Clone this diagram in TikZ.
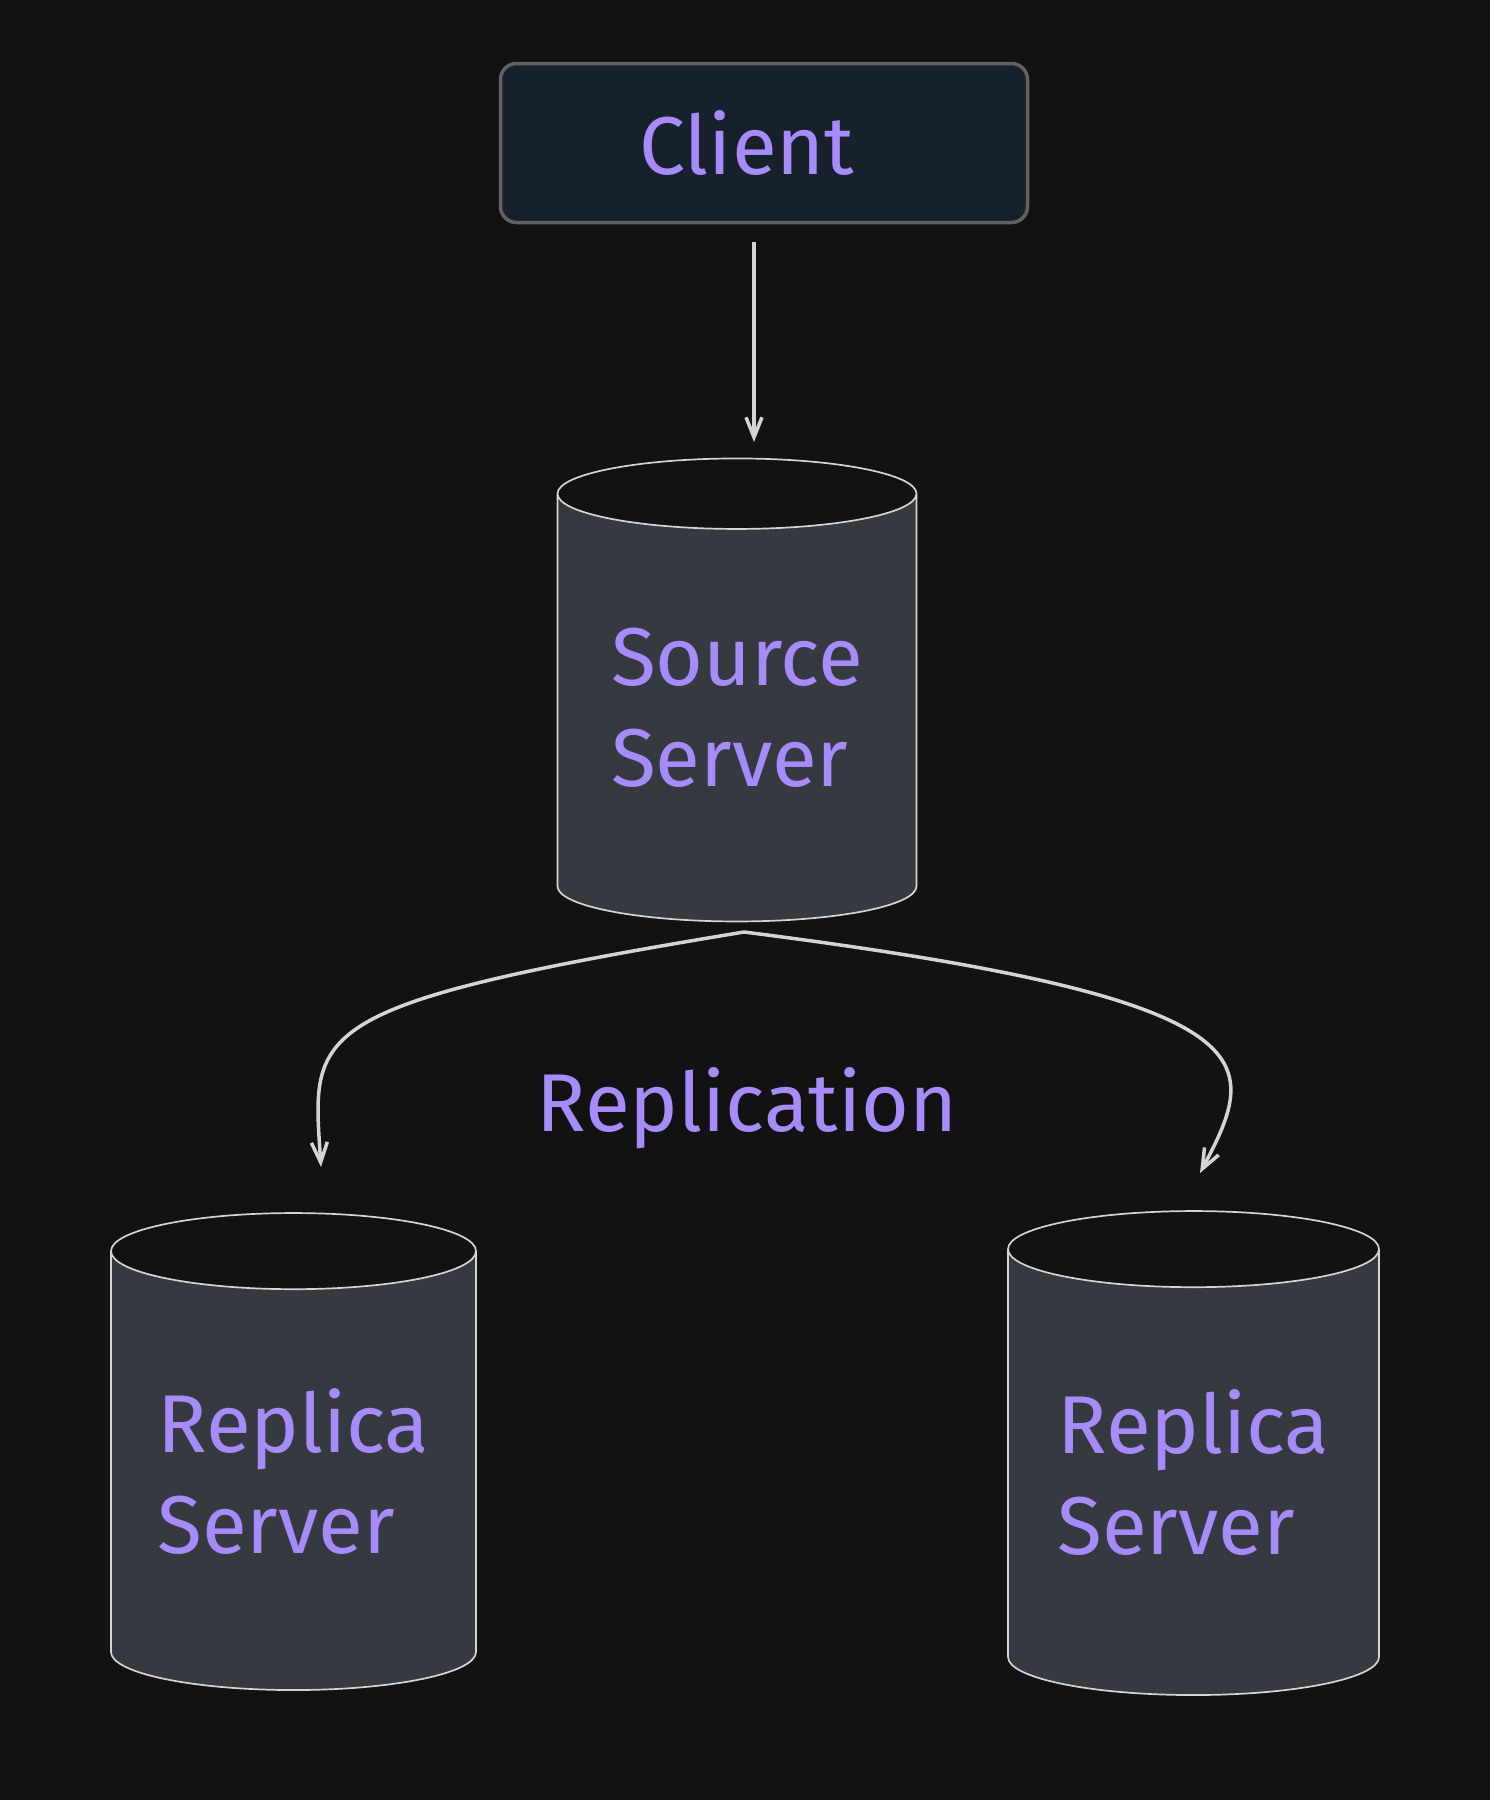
\documentclass[tikz,border=0pt]{standalone}
\usepackage{fontspec}
\newfontfamily\hand{Fira Sans}
\usetikzlibrary{shapes.geometric,arrows.meta}
\definecolor{bg}{HTML}{121212}
\definecolor{boxfill}{HTML}{17212B}
\definecolor{boxline}{HTML}{626262}
\definecolor{body}{HTML}{343A40}
\definecolor{edge}{HTML}{D4D4D4}
\definecolor{ink}{HTML}{A78BFA}
\tikzset{
  lbl/.style={font=\hand\fontsize{82}{101}\selectfont, text=ink},
  clientbox/.style={lbl, draw=boxline, fill=boxfill, line width=3.5pt, rounded corners=16pt, minimum width=527pt, minimum height=159pt},
  db/.style={lbl, cylinder, shape border rotate=90, aspect=0.28, draw=edge, line width=1.7pt, cylinder uses custom fill, cylinder body fill=body, cylinder end fill=bg, inner sep=0pt, align=left},
  arr/.style={draw=edge, line width=3.5pt, -{Straight Barb[length=20pt,width=16pt]}},
}

\begin{document}
\begin{tikzpicture}[x=1pt, y=-1pt]
        \fill[bg] (0,0) rectangle (1490,1800);
        \useasboundingbox (0,0) rectangle (1490,1800);

        % client and servers
        \node[clientbox] (client) at (764,143) {Client\hspace*{34pt}};
        \node[db, minimum width=359pt, minimum height=463pt] (src) at (737,708) {Source\\Server};
        \node[db, minimum width=365pt, minimum height=477pt] (lrep) at (293.5,1471) {Replica\\Server};
        \node[db, minimum width=371pt, minimum height=484pt] (rrep) at (1193.5,1472.5) {Replica\\Server};
        \node[lbl, anchor=base] (repl) at (747,1131) {Replication};

        % ends of the arrows
        \coordinate (split) at (744,932);
        \coordinate (lend) at (321,1167);
        \coordinate (rend) at (1200,1173);

        % arrows
        \draw[arr] ([xshift=-10pt, yshift=-18pt]client.south) -- (754,442);
        \draw[arr] (split) .. controls (300,1005) and (312,1030) .. (lend);
        \draw[arr] (split) .. controls (1280,1000) and (1260,1060) .. (rend);
    \end{tikzpicture}
\end{document}
